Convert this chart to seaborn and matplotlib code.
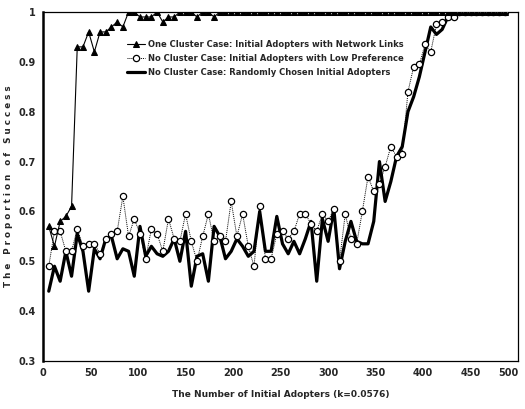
import numpy as np
import pandas as pd
import matplotlib
matplotlib.use("Agg")
import matplotlib.pyplot as plt
import seaborn as sns

# x positions (number of initial adopters)
x_vals = list(range(6, 487, 6))

one_cluster = [0.57, 0.53, 0.58, 0.59, 0.61, 0.93, 0.93, 0.96, 0.92, 0.96,
               0.96, 0.97, 0.98, 0.97, 1.0, 1.0, 0.99, 0.99, 0.99, 1.0,
               0.98, 0.99, 0.99, 1.0, 1.0, 1.0, 0.99, 1.0, 1.0, 0.99,
               1.0, 1.0, 1.0, 1.0, 1.0, 1.0, 1.0, 1.0, 1.0, 1.0,
               1.0, 1.0, 1.0, 1.0, 1.0, 1.0, 1.0, 1.0, 1.0, 1.0,
               1.0, 1.0, 1.0, 1.0, 1.0, 1.0, 1.0, 1.0, 1.0, 1.0,
               1.0, 1.0, 1.0, 1.0, 1.0, 1.0, 1.0, 1.0, 1.0, 1.0,
               1.0, 1.0, 1.0, 1.0, 1.0, 1.0, 1.0, 1.0, 1.0, 1.0, 1.0]

low_pref = [0.49, 0.56, 0.56, 0.52, 0.52, 0.565, 0.53, 0.535, 0.535, 0.515,
            0.545, 0.555, 0.56, 0.63, 0.55, 0.585, 0.555, 0.505, 0.565, 0.555,
            0.52, 0.585, 0.545, 0.54, 0.595, 0.54, 0.50, 0.55, 0.595, 0.54,
            0.55, 0.54, 0.62, 0.55, 0.595, 0.53, 0.49, 0.61, 0.505, 0.505,
            0.555, 0.56, 0.545, 0.56, 0.595, 0.595, 0.575, 0.56, 0.595, 0.58,
            0.605, 0.50, 0.595, 0.545, 0.535, 0.60, 0.67, 0.64, 0.655, 0.69,
            0.73, 0.71, 0.715, 0.84, 0.89, 0.895, 0.935, 0.92, 0.975, 0.98,
            0.99, 0.99, 1.0, 1.0, 1.0, 1.0, 1.0, 1.0, 1.0, 1.0, 1.0]

random_pick = [0.44, 0.49, 0.46, 0.52, 0.47, 0.555, 0.52, 0.44, 0.525, 0.505,
               0.545, 0.55, 0.505, 0.525, 0.52, 0.47, 0.57, 0.51, 0.53, 0.515,
               0.51, 0.52, 0.545, 0.50, 0.56, 0.45, 0.51, 0.515, 0.46, 0.57,
               0.55, 0.505, 0.52, 0.545, 0.53, 0.51, 0.52, 0.60, 0.52, 0.52,
               0.59, 0.535, 0.515, 0.54, 0.515, 0.545, 0.58, 0.46, 0.585, 0.54,
               0.605, 0.485, 0.54, 0.58, 0.54, 0.535, 0.535, 0.58, 0.70, 0.62,
               0.66, 0.71, 0.73, 0.80, 0.83, 0.87, 0.92, 0.97, 0.955, 0.965,
               0.99, 1.0, 1.0, 1.0, 1.0, 1.0, 1.0, 1.0, 1.0, 1.0, 1.0]

labels = ["One Cluster Case: Initial Adopters with Network Links",
          "No Cluster Case: Initial Adopters with Low Preference",
          "No Cluster Case: Randomly Chosen Initial Adopters"]

x_ticks = [0, 50, 100, 150, 200, 250, 300, 350, 400, 450, 500]
y_ticks = [0.3, 0.4, 0.5, 0.6, 0.7, 0.8, 0.9, 1.0]

df = pd.DataFrame({"x": x_vals, "one": one_cluster, "low": low_pref, "rnd": random_pick})

sns.set_style("white")
plt.rcParams['font.family'] = ['DejaVu Sans']

fig = plt.figure(figsize=(5.25, 4.09), dpi=100)
ax = fig.add_axes([0.082, 0.1174, 0.905, 0.8533])

sns.lineplot(data=df, x="x", y="rnd", ax=ax, color="black", linewidth=2.3,
             label=labels[2], zorder=2)
sns.lineplot(data=df, x="x", y="low", ax=ax, color="black", linewidth=0.7,
             linestyle=(0, (1, 1)), marker="o", markersize=4.5,
             markerfacecolor="white", markeredgecolor="black", markeredgewidth=0.9,
             label=labels[1], zorder=3)
sns.lineplot(data=df, x="x", y="one", ax=ax, color="black", linewidth=0.8,
             marker="^", markersize=5, markerfacecolor="black",
             markeredgecolor="black", label=labels[0], zorder=4)

ax.set_xlim(0, 500)
ax.set_ylim(0.3, 1.0)
ax.set_xticks(x_ticks)
ax.set_yticks(y_ticks)
ax.set_xticklabels([str(v) for v in x_ticks], fontsize=7, fontweight="bold")
ax.set_yticklabels(["{:g}".format(v) for v in y_ticks], fontsize=7, fontweight="bold")
ax.tick_params(axis="both", direction="in", length=3, width=0.8, pad=5)
ax.get_xticklabels()[-1].set_horizontalalignment("right")

ax.set_xlabel("The Number of Initial Adopters (k=0.0576)", fontsize=6.5,
              fontweight="bold", labelpad=9)
ax.set_ylabel("T h e   P r o p o r t i o n   o f   S u c c e s s", fontsize=6.3,
              fontweight="bold", labelpad=4)

for side in ["top", "right", "bottom"]:
    ax.spines[side].set_linewidth(0.9)
    ax.spines[side].set_color("black")
ax.spines["left"].set_linewidth(1.8)
ax.spines["left"].set_color("black")

handles, labs = ax.get_legend_handles_labels()
order = [labs.index(l) for l in labels]
leg = ax.legend([handles[i] for i in order], [labs[i] for i in order],
                loc="upper left", bbox_to_anchor=(0.17, 0.93), frameon=False,
                fontsize=6.0, handlelength=2.2, handletextpad=0.3,
                labelspacing=0.6, borderaxespad=0)
for t in leg.get_texts():
    t.set_fontweight("bold")

fig.savefig("out.png", dpi=100, facecolor="white")
